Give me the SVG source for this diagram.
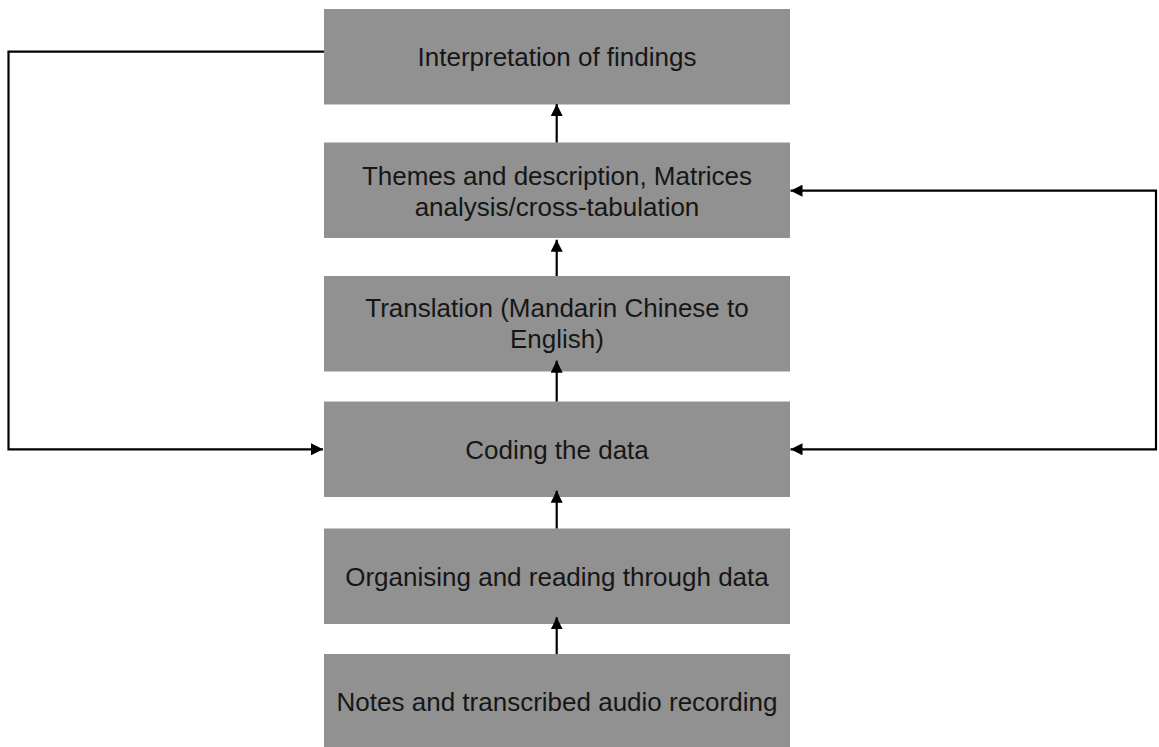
<svg xmlns="http://www.w3.org/2000/svg" width="1159" height="747" viewBox="0 0 1159 747">
<style>
.box{fill:#919191;}
.lbl{font-family:"Liberation Sans",Arial,Helvetica,sans-serif;font-size:26px;fill:#161616;text-anchor:middle;}
.con{fill:none;stroke:#000;stroke-width:2.2;}
</style>
<defs>
<marker id="ah" markerUnits="userSpaceOnUse" markerWidth="12" markerHeight="12" refX="12" refY="6" orient="auto">
<path d="M0,0 L12,6 L0,12 z" fill="#000"/>
</marker>
<marker id="ahs" markerUnits="userSpaceOnUse" markerWidth="12" markerHeight="12" refX="0" refY="6" orient="auto">
<path d="M12,0 L0,6 L12,12 z" fill="#000"/>
</marker>
</defs>
<rect width="1159" height="747" fill="#fff"/>
<g id="interpretation">
<rect class="box" x="324" y="9" width="466" height="95.5"/>
<text class="lbl" x="557" y="66">Interpretation of findings</text>
</g>
<g id="themes">
<rect class="box" x="324" y="142.5" width="466" height="95.5"/>
<text class="lbl" x="557" y="185">Themes and description, Matrices</text>
<text class="lbl" x="557" y="215.5">analysis/cross-tabulation</text>
</g>
<g id="translation">
<rect class="box" x="324" y="276" width="466" height="95.5"/>
<text class="lbl" x="557" y="317">Translation (Mandarin Chinese to</text>
<text class="lbl" x="557" y="347.5">English)</text>
</g>
<g id="coding">
<rect class="box" x="324" y="401.5" width="466" height="95.5"/>
<text class="lbl" x="557" y="459">Coding the data</text>
</g>
<g id="organising">
<rect class="box" x="324" y="528.5" width="466" height="95.5"/>
<text class="lbl" x="557" y="586">Organising and reading through data</text>
</g>
<g id="notes">
<rect class="box" x="324" y="654" width="466" height="95.5"/>
<text class="lbl" x="557" y="711">Notes and transcribed audio recording</text>
</g>
<g id="connectors">
<line class="con" x1="556.7" y1="142.5" x2="556.7" y2="104" marker-end="url(#ah)"/>
<line class="con" x1="556.7" y1="276" x2="556.7" y2="239.7" marker-end="url(#ah)"/>
<line class="con" x1="556.7" y1="401.5" x2="556.7" y2="360.7" marker-end="url(#ah)"/>
<line class="con" x1="556.7" y1="528.5" x2="556.7" y2="490.7" marker-end="url(#ah)"/>
<line class="con" x1="556.7" y1="654" x2="556.7" y2="617.3" marker-end="url(#ah)"/>
<path class="con" d="M324,51.7 H8.5 V449.3 H323" marker-end="url(#ah)"/>
<path class="con" d="M790.5,190.7 H1156 V449.3 H790.5" marker-start="url(#ahs)" marker-end="url(#ah)"/>
</g>
</svg>
